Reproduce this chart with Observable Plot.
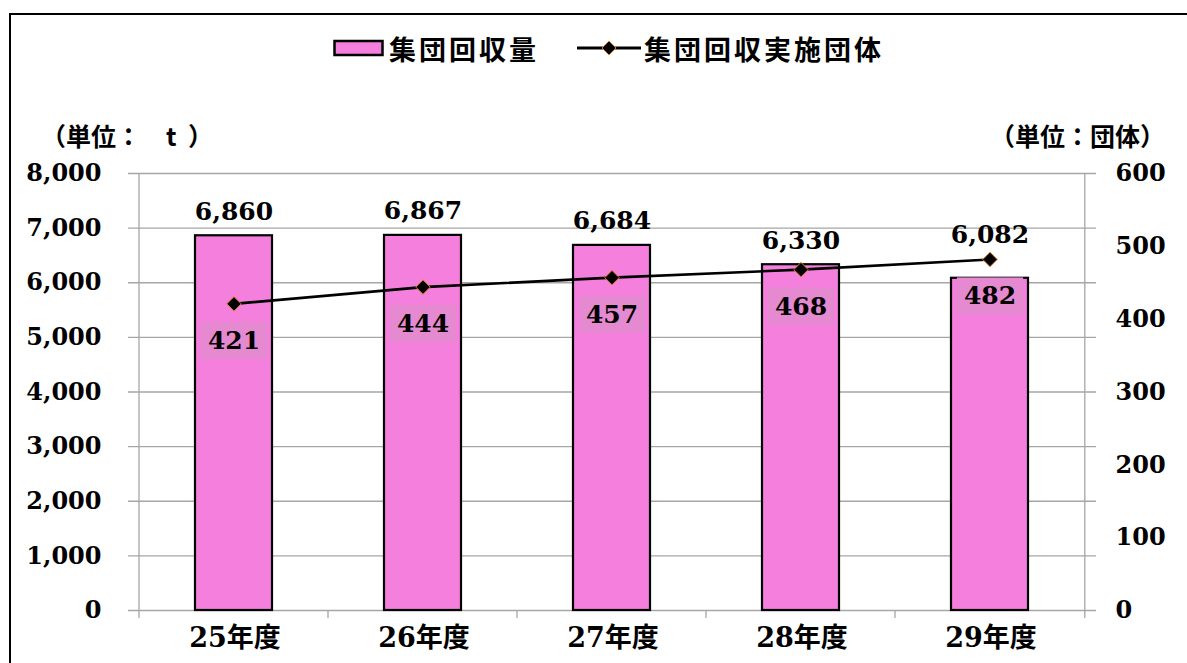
<!DOCTYPE html>
<html><head><meta charset="utf-8">
<script src="https://cdn.jsdelivr.net/npm/d3@7"></script>
<script src="https://cdn.jsdelivr.net/npm/@observablehq/plot@0.6"></script>
<style>
body{margin:0;background:#fff;}
#wrap{position:relative;width:1187px;height:663px;overflow:hidden;background:#fff;}
#wrap svg.chart{position:absolute;left:0;top:0;}
#frame{position:absolute;left:9px;top:13px;width:1300px;height:800px;border-left:2.5px solid #000;border-top:2.5px solid #000;}
.lg{position:absolute;top:32px;height:32px;display:flex;align-items:center;font-family:"Noto Sans CJK JP","Noto Sans",sans-serif;font-weight:bold;font-size:27px;letter-spacing:3px;color:#000;text-spacing-trim:space-all;}
.unit{position:absolute;top:117px;font-family:"Noto Sans CJK JP",sans-serif;font-weight:bold;font-size:25px;color:#000;white-space:pre;text-spacing-trim:space-all;font-kerning:none;}
</style></head>
<body>
<div id="wrap">
  <div id="frame"></div>
  <div class="lg" id="lg1" style="left:333px"></div>
  <div class="lg" id="lg2" style="left:576px"></div>
  <div class="unit" id="u1" style="left:41px"></div>
  <div class="unit" id="u2" style="left:990px"></div>
</div>
<script>
// ---- data ----
const years = ["25年度", "26年度", "27年度", "28年度", "29年度"];
const amounts = [6860, 6867, 6684, 6330, 6082];      // 集団回収量 (t)
const groups = [421, 444, 457, 468, 482];            // 集団回収実施団体
const leftTicks = [0, 1000, 2000, 3000, 4000, 5000, 6000, 7000, 8000];
const rightTicks = [0, 100, 200, 300, 400, 500, 600];
const seriesNames = ["集団回収量", "集団回収実施団体"];
const unitLabels = ["（単位：　t  ）", "（単位：団体）"];

const leftMax = 8000, rightMax = 600;
const K = leftMax / rightMax;
const data = years.map((y, i) => ({year: y, amount: amounts[i], groups: groups[i], gy: groups[i] * K}));

const barFill = "#f47fdc";
const grid = "#a6a6a6";

function boundaryTicks(index, scales, values, dims) {
  const g = d3.create("svg:g").attr("stroke", grid).attr("stroke-width", 1.3);
  const x0 = dims.marginLeft, x1 = dims.width - dims.marginRight;
  const yTop = dims.marginTop, yBot = dims.height - dims.marginBottom;
  const step = (x1 - x0) / years.length;
  for (let i = 0; i <= years.length; i++) {
    const x = i < years.length ? scales.x(years[i]) : scales.x(years[years.length - 1]) + step;
    const edge = i === 0 || i === years.length;
    g.append("line").attr("x1", x).attr("x2", x)
      .attr("y1", edge ? yTop : yBot).attr("y2", yBot + 8);
  }
  return g.node();
}

const chart = Plot.plot({
  width: 1187, height: 663,
  marginLeft: 137, marginRight: 101, marginTop: 173, marginBottom: 53,
  style: {fontFamily: "'DejaVu Serif', 'Noto Sans CJK JP', serif", fontSize: "24px", fontWeight: "bold", color: "#000", background: "transparent"},
  x: {domain: years, paddingInner: 0, paddingOuter: 0},
  y: {domain: [0, leftMax]},
  marks: [
    Plot.ruleY(leftTicks, {stroke: grid, strokeWidth: 1.3, insetLeft: -9, insetRight: -10}),
    boundaryTicks,
    Plot.barY(data, {x: "year", y: "amount", fill: barFill, stroke: "#000", strokeWidth: 2.2, insetLeft: 56, insetRight: 56}),
    Plot.line(data, {x: "year", y: "gy", stroke: "#000", strokeWidth: 2.6}),
    Plot.dot(data, {x: "year", y: "gy", symbol: "diamond2", r: 6.5, fill: "#000", stroke: "#e07b20", strokeWidth: 1}),
    // value labels sit above the bar or the line point, whichever is higher
    Plot.text(data, {x: "year", y: d => Math.max(d.amount, d.gy), text: d => d3.format(",")(d.amount), dy: -16, lineAnchor: "bottom", fontSize: 25, fontWeight: "bold", fill: "#000"}),
    Plot.text(data, {x: "year", y: "gy", text: d => String(d.groups), dy: 37, lineAnchor: "middle", fontSize: 25, fontWeight: "bold", fill: "#000", ariaDescription: "grp-labels"}),
    Plot.axisY({anchor: "left", ticks: leftTicks, tickSize: 0, tickPadding: 36, tickFormat: d3.format(","), label: null, fontSize: 24, fontWeight: "bold"}),
    Plot.axisY({anchor: "right", ticks: rightTicks.map(d => d * K), tickSize: 0, tickPadding: 29, tickFormat: d => String(Math.round(d / K)), label: null, fontSize: 24, fontWeight: "bold"}),
    Plot.axisX({tickSize: 0, tickPadding: 17, label: null, fontSize: 27, fontWeight: "bold", dx: 1})
  ]
});
chart.classList.add("chart");
document.getElementById("wrap").appendChild(chart);

// label boxes behind group counts
const lblGroup = chart.querySelector('g[aria-description="grp-labels"]');
if (lblGroup) {
  const boxes = d3.create("svg:g");
  lblGroup.querySelectorAll("text").forEach(t => {
    const b = t.getBBox();
    let tx = 0, ty = 0;
    const tr = t.getAttribute("transform");
    if (tr) { const m = tr.match(/translate\(([-\d.]+)[ ,]+([-\d.]+)\)/); if (m) { tx = +m[1]; ty = +m[2]; } }
    boxes.append("rect").attr("x", tx + b.x - 7).attr("y", ty + b.y - 4)
      .attr("width", b.width + 14).attr("height", b.height + 8).attr("fill", "#e58ad0");
  });
  const gt = lblGroup.getAttribute("transform");
  if (gt) boxes.attr("transform", gt);
  lblGroup.parentNode.insertBefore(boxes.node(), lblGroup);
}

// legend
const lg1 = document.getElementById("lg1");
lg1.innerHTML = `<svg width="52" height="20" style="margin-right:4px"><rect x="1.5" y="3" width="48" height="14" fill="${barFill}" stroke="#000" stroke-width="2.5"/></svg><span>${seriesNames[0]}</span>`;
const lg2 = document.getElementById("lg2");
lg2.innerHTML = `<svg width="66" height="20" style="margin-right:2px"><line x1="1" x2="65" y1="10" y2="10" stroke="#000" stroke-width="3"/><path d="M33,3 L40,10 L33,17 L26,10 Z" fill="#000" stroke="#e07b20" stroke-width="1"/></svg><span>${seriesNames[1]}</span>`;
document.getElementById("u1").textContent = unitLabels[0];
document.getElementById("u2").textContent = unitLabels[1];
</script>
</body></html>
